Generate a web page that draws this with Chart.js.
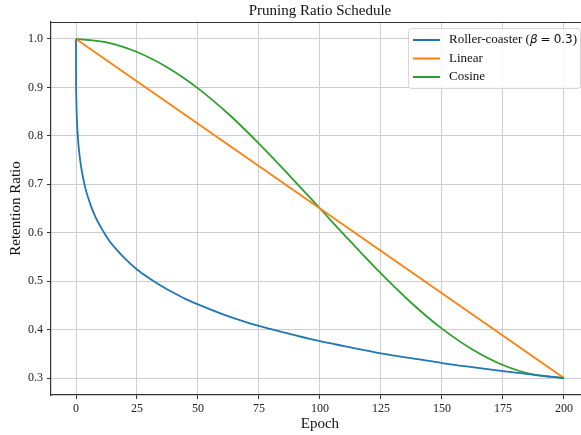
<!DOCTYPE html>
<html>
<head>
<meta charset="utf-8">
<script src="https://cdn.jsdelivr.net/npm/chart.js@4.4.1/dist/chart.umd.min.js"></script>
<style>
  html, body { margin: 0; padding: 0; background: #fff; }
  #wrap { width: 581px; height: 435px; position: relative; }
</style>
</head>
<body>
<div id="wrap"><canvas id="schedule"></canvas></div>
<script>
// values
const rollerEpochs = [0, 0.02, 0.1, 0.25, 0.5, 1, 1.5, 2, 3, 4, 5, 6, 8, 10, 12, 14, 17, 20, 25, 30, 35, 40, 45, 50, 60, 70, 80, 90, 100, 110, 125, 140, 150, 160, 175, 190, 200];
const rollerValues = [1.0, 0.927, 0.884, 0.85, 0.819, 0.782, 0.758, 0.739, 0.711, 0.689, 0.672, 0.657, 0.632, 0.613, 0.596, 0.581, 0.563, 0.547, 0.524, 0.506, 0.49, 0.476, 0.463, 0.452, 0.432, 0.415, 0.401, 0.388, 0.376, 0.366, 0.351, 0.339, 0.331, 0.324, 0.3145, 0.3056, 0.300];

const linearEpochs = [0, 200];
const linearValues = [1.0, 0.3];

const cosineEpochs = [0, 12.5, 25, 37.5, 50, 62.5, 75, 87.5, 100, 112.5, 125, 137.5, 150, 162.5, 175, 187.5, 200];
const cosineValues = [1.0, 0.993, 0.973, 0.941, 0.898, 0.845, 0.784, 0.718, 0.65, 0.582, 0.516, 0.455, 0.402, 0.359, 0.327, 0.307, 0.300];

const xTicks = [0, 25, 50, 75, 100, 125, 150, 175, 200];
const yTicks = [0.3, 0.4, 0.5, 0.6, 0.7, 0.8, 0.9, 1.0];

const seriesNames = ['Roller-coaster', 'Linear', 'Cosine'];
const seriesColors = ['#1f77b4', '#ff7f0e', '#2ca02c'];

const SERIF = '"Liberation Serif", "Times New Roman", serif';
const MATH = '"DejaVu Sans", sans-serif';

const toPoints = (xs, ys) => xs.map((x, i) => ({ x: x, y: ys[i] }));

// title, axis label, top spine and the legend box
const decorations = {
    id: 'decorations',
    afterDraw(chart) {
        const { ctx, chartArea } = chart;
        const xs = chart.scales.x;
        const midX = xs.getPixelForValue(100);

        ctx.save();
        // top spine
        ctx.strokeStyle = '#333';
        ctx.lineWidth = 1.2;
        ctx.beginPath();
        ctx.moveTo(chartArea.left, chartArea.top + 0.5);
        ctx.lineTo(chartArea.right, chartArea.top + 0.5);
        ctx.stroke();

        ctx.fillStyle = '#111';
        ctx.textAlign = 'center';
        ctx.textBaseline = 'middle';
        ctx.font = '15px ' + SERIF;
        ctx.fillText('Pruning Ratio Schedule', midX, 11);
        ctx.fillText('Epoch', midX, 424);

        // legend
        const boxRight = chartArea.right - 1;
        const boxLeft = 408;
        const boxTop = chartArea.top + 6;
        const boxBottom = boxTop + 60;
        ctx.fillStyle = 'rgba(255,255,255,0.85)';
        ctx.strokeStyle = '#d6d6d6';
        ctx.lineWidth = 1;
        ctx.beginPath();
        ctx.roundRect(boxLeft + 0.5, boxTop + 0.5, boxRight - boxLeft, boxBottom - boxTop, 3);
        ctx.fill();
        ctx.stroke();

        const rowY = [40, 58.5, 77];
        seriesNames.forEach((name, i) => {
            ctx.strokeStyle = seriesColors[i];
            ctx.lineWidth = 2;
            ctx.beginPath();
            ctx.moveTo(413, rowY[i]);
            ctx.lineTo(440, rowY[i]);
            ctx.stroke();

            ctx.fillStyle = '#111';
            ctx.textAlign = 'left';
            ctx.textBaseline = 'middle';
            let x = 449;
            if (i === 0) {
                const parts = [
                    ['Roller-coaster (', '13px ' + SERIF, 0],
                    ['\u03B2', 'italic 12px ' + MATH, 3],
                    ['=', '12px ' + MATH, 3],
                    ['0.3', '12px ' + MATH, 0],
                    [')', '13px ' + SERIF, 0]
                ];
                parts.forEach(([txt, font, gap]) => {
                    ctx.font = font;
                    ctx.fillText(txt, x, rowY[i]);
                    x += ctx.measureText(txt).width + gap;
                });
            } else {
                ctx.font = '13px ' + SERIF;
                ctx.fillText(name, x, rowY[i]);
            }
        });
        ctx.restore();
    }
};

const lineStyle = (color) => ({
    borderColor: color,
    backgroundColor: color,
    borderWidth: 1.8,
    pointRadius: 0,
    fill: false,
    cubicInterpolationMode: 'monotone'
});

new Chart(document.getElementById('schedule'), {
    type: 'line',
    data: {
        datasets: [
            { label: seriesNames[0], data: toPoints(rollerEpochs, rollerValues), ...lineStyle(seriesColors[0]) },
            { label: seriesNames[1], data: toPoints(linearEpochs, linearValues), ...lineStyle(seriesColors[1]) },
            { label: seriesNames[2], data: toPoints(cosineEpochs, cosineValues), ...lineStyle(seriesColors[2]) }
        ]
    },
    options: {
        responsive: true,
        maintainAspectRatio: false,
        animation: false,
        events: [],
        layout: { padding: { top: 22, right: 0, bottom: 0, left: 0 } },
        plugins: {
            legend: { display: false },
            title: { display: false },
            tooltip: { enabled: false }
        },
        scales: {
            x: {
                type: 'linear',
                min: -10.25,
                max: 207,
                afterBuildTicks: (scale) => { scale.ticks = xTicks.map(v => ({ value: v })); },
                afterFit: (scale) => { scale.height = 40; },
                grid: { color: '#cdcdcd', lineWidth: 1, tickColor: '#333', tickLength: 4 },
                border: { color: '#333', width: 1.2 },
                ticks: { color: '#222', font: { family: SERIF, size: 12 }, padding: 3, maxRotation: 0 }
            },
            y: {
                type: 'linear',
                min: 0.265,
                max: 1.035,
                afterBuildTicks: (scale) => { scale.ticks = yTicks.map(v => ({ value: v })); },
                afterFit: (scale) => { scale.width = 51; },
                grid: { color: '#cdcdcd', lineWidth: 1, tickColor: '#333', tickLength: 4 },
                border: { color: '#333', width: 1.2 },
                ticks: {
                    color: '#222',
                    font: { family: SERIF, size: 12 },
                    padding: 4,
                    callback: (v) => Number(v).toFixed(1)
                },
                title: {
                    display: true,
                    text: 'Retention Ratio',
                    color: '#111',
                    font: { family: SERIF, size: 15 },
                    padding: { top: 7, bottom: 0 }
                }
            }
        }
    },
    plugins: [decorations]
});
</script>
</body>
</html>
